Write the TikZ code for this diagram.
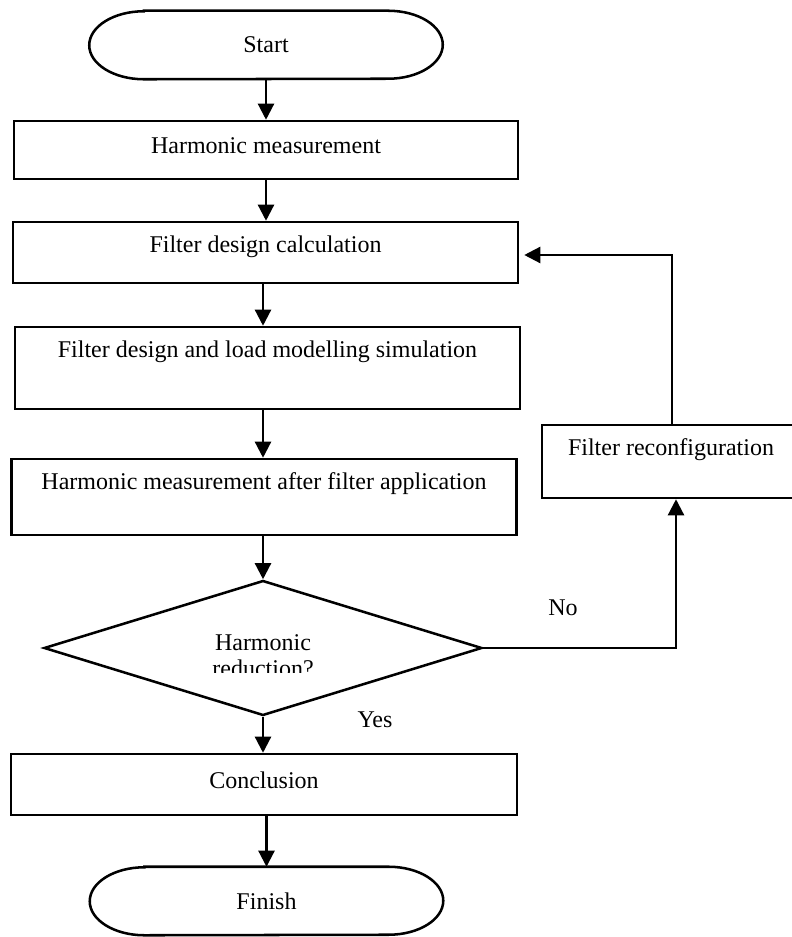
\documentclass[tikz,border=0pt]{standalone}
\usepackage{fontspec}
\setmainfont{Liberation Serif}
\usetikzlibrary{shapes.geometric,arrows.meta}
\begin{document}
\begin{tikzpicture}[x=0.75pt,y=-0.75pt,
  font=\fontsize{18}{19.5}\selectfont,
  ln/.style={line width=1.9pt},
  box/.style={ln, draw, rectangle, inner sep=0pt},
  term/.style={inner sep=0pt, minimum width=264.75pt, minimum height=51pt},
  dia/.style={ln, draw, diamond, inner sep=0pt},
  arr/.style={line width=1.7pt, -{Triangle[length=12pt,width=12pt]}},
  toptext/.style={label={[anchor=center,yshift=-19.5pt]north:#1}},
]
\useasboundingbox (0,0) rectangle (791,937);

% nodes
\node[term] (start) at (266,45) {Start};
\node[box, minimum width=378pt, minimum height=43.5pt, toptext=Harmonic measurement] (hm) at (266,150) {};
\node[box, minimum width=378.75pt, minimum height=45.75pt, toptext=Filter design calculation] (fdc) at (265.5,252.5) {};
\node[box, minimum width=378.75pt, minimum height=61.5pt, toptext=Filter design and load modelling simulation] (fdl) at (267.5,368) {};
\node[box, minimum width=378.75pt, minimum height=57pt, toptext=Harmonic measurement after filter application] (hma) at (264,497) {};
\node[dia, minimum width=328.5pt, minimum height=101.25pt] (dec) at (263,648) {};
\begin{scope}
  \clip (100,600) rectangle (430,672);
  \node[align=center, inner sep=0pt] (dect) at (263,656) {Harmonic\\reduction?};
\end{scope}
\node[box, minimum width=379.5pt, minimum height=45.75pt, label={[anchor=center,yshift=-21pt]north:Conclusion}] (conc) at (264,784.5) {};
\node[term] (fin) at (266.5,901) {Finish};
\node[box, minimum width=193.5pt, minimum height=54.75pt, toptext=Filter reconfiguration] (rec) at (671,461.5) {};
\node (no) at (563,608) {No};
\node (yes) at (375,720) {Yes};

% terminator outlines
\foreach \n in {start,fin}{
  \draw[ln] ([xshift=41pt]\n.north west) -- ([xshift=-41pt]\n.north east)
    arc[start angle=90,end angle=-90,x radius=41pt,y radius=25.5pt]
    -- ([xshift=41pt]\n.south west)
    arc[start angle=270,end angle=90,x radius=41pt,y radius=25.5pt] -- cycle;
}

% connectors
\draw[arr] (start.south) -- (hm.north -| start.south);
\draw[arr] (hm.south) -- (fdc.north -| hm.south);
\draw[arr] (fdc.south -| dec.north) -- (fdl.north -| dec.north);
\draw[arr] (fdl.south -| dec.north) -- (hma.north -| dec.north);
\draw[arr] (hma.south -| dec.north) -- (dec.north);
\draw[arr] (dec.south) -- (conc.north -| dec.south);
\draw[arr] (conc.south -| fin.north) -- (fin.north);

\coordinate (nocorner) at (676,648);
\draw[arr] (dec.east) -- (nocorner) -- (rec.south -| nocorner);
\coordinate (fbcorner) at (672,255);
\draw[arr] (rec.north -| fbcorner) -- (fbcorner) -- ([xshift=3.75pt]fdc.east |- fbcorner);
\end{tikzpicture}
\end{document}
